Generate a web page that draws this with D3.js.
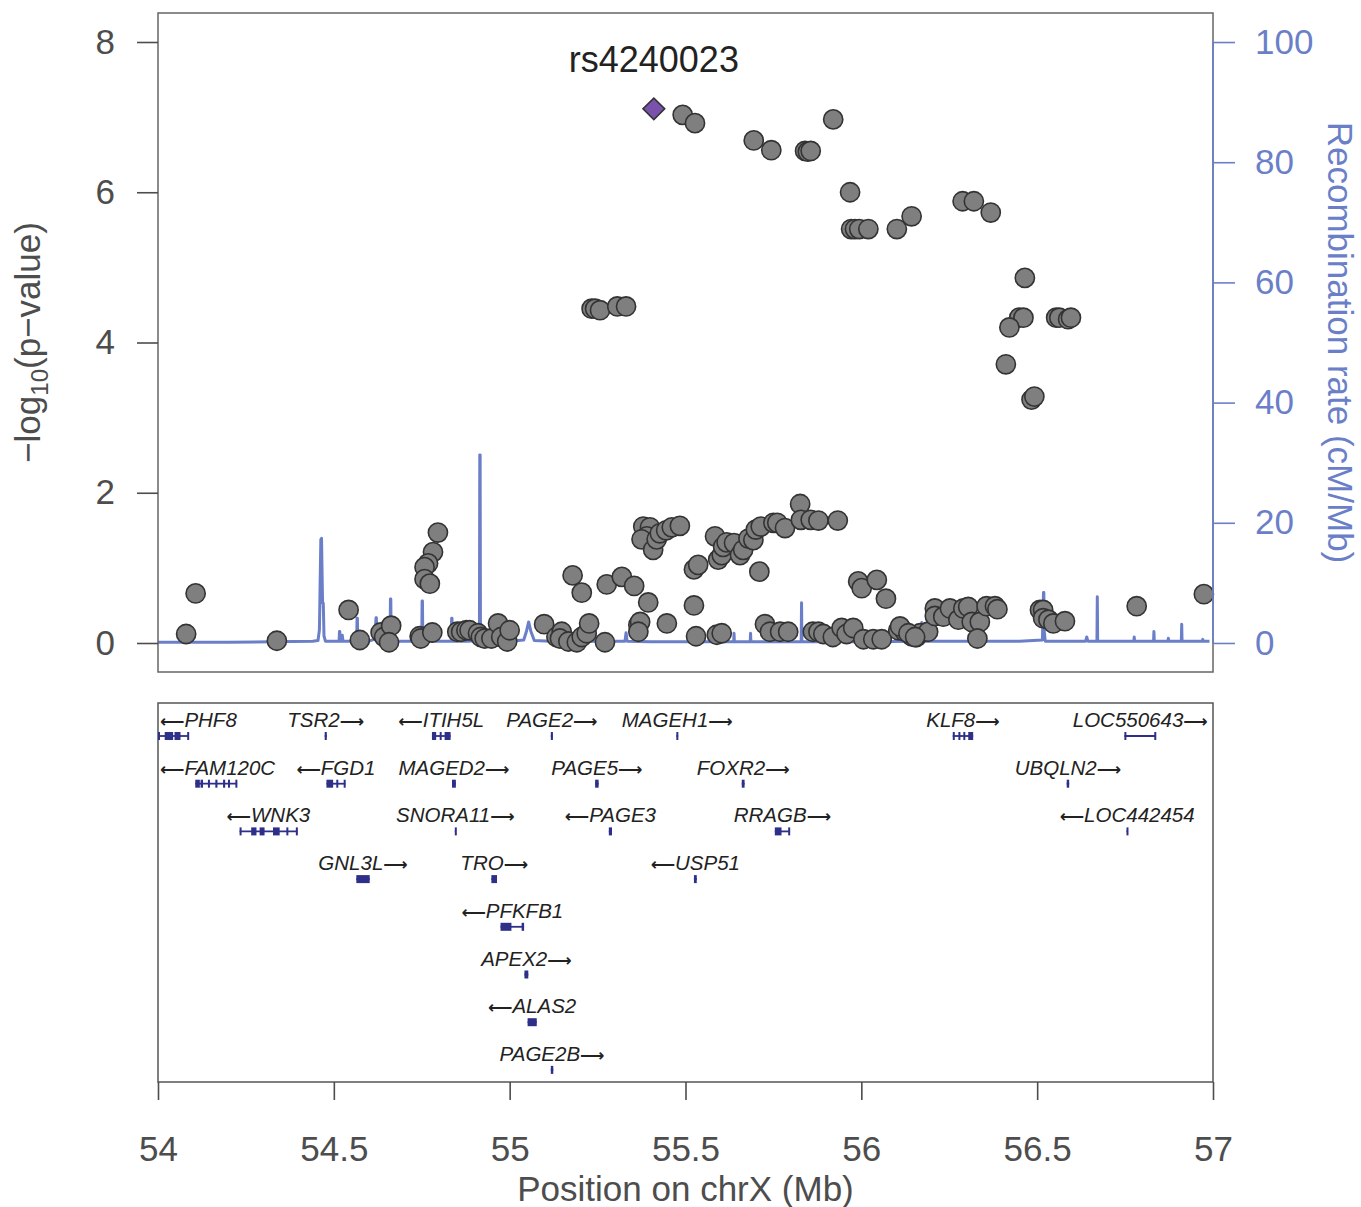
<!DOCTYPE html>
<html>
<head>
<meta charset="utf-8">
<script src="https://cdn.jsdelivr.net/npm/d3@7"></script>
<style>
  body { margin: 0; background: #fff; }
  text { font-family: Arial, "Liberation Sans", Helvetica, sans-serif; }
</style>
</head>
<body>
<svg id="chart" width="1361" height="1207"></svg>
<script>
// Lead variant
const leadSnp = { name: "rs4240023", pos: 55.410, logp: 7.11 };

// Other variants: [position (Mb), -log10 p]
const snps = [
  [54.080, 0.12], [54.107, 0.66], [54.338, 0.03], [54.542, 0.44], [54.574, 0.04],
  [54.633, 0.14], [54.643, 0.08], [54.663, 0.23], [54.657, 0.01], [54.744, 0.09],
  [54.747, 0.06], [54.780, 0.14], [54.796, 1.47], [54.782, 1.21], [54.768, 1.06],
  [54.758, 1.01], [54.758, 0.85], [54.773, 0.79], [54.851, 0.15], [54.862, 0.15],
  [54.877, 0.17], [54.886, 0.17], [54.910, 0.13], [54.918, 0.08], [54.929, 0.06],
  [54.948, 0.06], [54.967, 0.26], [54.976, 0.08], [54.993, 0.02], [55.000, 0.17],
  [55.098, 0.25], [55.133, 0.08], [55.148, 0.15], [55.143, 0.06], [55.167, 0.02],
  [55.191, 0.01], [55.205, 0.08], [55.219, 0.13], [55.226, 0.26], [55.271, 0.01],
  [55.179, 0.90], [55.205, 0.67], [55.276, 0.78], [55.319, 0.88], [55.354, 0.76],
  [55.394, 0.54], [55.366, 0.24], [55.371, 0.28], [55.366, 0.15], [55.447, 0.26],
  [55.380, 1.55], [55.399, 1.54], [55.390, 1.42], [55.375, 1.38], [55.408, 1.24],
  [55.418, 1.38], [55.427, 1.46], [55.445, 1.50], [55.461, 1.54], [55.484, 1.56],
  [55.524, 0.50], [55.530, 0.09], [55.589, 0.11], [55.603, 0.13], [55.524, 0.98],
  [55.536, 1.04], [55.584, 1.42], [55.593, 1.11], [55.603, 1.17], [55.607, 1.28],
  [55.617, 1.34], [55.638, 1.33], [55.655, 1.17], [55.664, 1.24], [55.679, 1.39],
  [55.693, 1.37], [55.700, 1.51], [55.714, 1.55], [55.750, 1.60], [55.761, 1.60],
  [55.783, 1.53], [55.710, 0.95], [55.826, 1.85], [55.828, 1.64], [55.856, 1.64],
  [55.878, 1.63], [55.933, 1.63], [55.726, 0.25], [55.740, 0.15], [55.769, 0.15],
  [55.792, 0.15], [55.862, 0.15], [55.878, 0.15], [55.892, 0.12], [55.919, 0.08],
  [55.944, 0.20], [55.958, 0.12], [55.977, 0.20], [56.006, 0.05], [56.034, 0.05],
  [56.058, 0.05], [55.991, 0.82], [56.001, 0.73], [56.044, 0.84], [56.070, 0.59],
  [56.105, 0.17], [56.124, 0.15], [56.143, 0.09], [56.157, 0.08], [56.167, 0.13],
  [56.190, 0.15], [56.209, 0.46], [56.209, 0.36], [56.110, 0.22], [56.134, 0.13],
  [56.153, 0.08], [56.233, 0.35], [56.252, 0.46], [56.276, 0.31], [56.290, 0.46],
  [56.304, 0.48], [56.314, 0.28], [56.337, 0.28], [56.330, 0.06], [56.356, 0.49],
  [56.380, 0.49], [56.387, 0.45], [56.508, 0.44], [56.517, 0.44], [56.517, 0.33],
  [56.532, 0.31], [56.546, 0.26], [56.579, 0.29], [56.783, 0.49], [56.974, 0.65],
  [55.492, 7.03], [55.527, 6.92], [55.694, 6.69], [55.744, 6.56], [55.840, 6.55],
  [55.848, 6.54], [55.856, 6.55], [55.920, 6.97], [55.968, 6.00], [55.971, 5.51],
  [55.982, 5.51], [55.994, 5.51], [56.020, 5.51], [56.101, 5.51], [56.143, 5.68],
  [56.288, 5.88], [56.320, 5.88], [56.368, 5.73], [56.465, 4.86], [56.449, 4.33],
  [56.461, 4.33], [56.421, 4.20], [56.411, 3.71], [56.484, 3.24], [56.492, 3.28],
  [56.554, 4.33], [56.563, 4.33], [56.588, 4.31], [56.596, 4.33], [55.233, 4.45],
  [55.243, 4.45], [55.257, 4.43], [55.306, 4.48], [55.331, 4.48]
];

// Recombination rate: [position (Mb), cM/Mb]
const recombination = [
  [54.000, 0.1], [54.200, 0.1], [54.440, 0.3], [54.455, 0.4], [54.459, 2.2],
  [54.463, 17.2], [54.465, 17.4], [54.468, 6.6], [54.470, 6.6], [54.472, 1.2],
  [54.476, 0.3], [54.510, 0.3], [54.515, 0.3], [54.516, 1.9], [54.517, 1.9],
  [54.518, 0.3], [54.522, 0.3], [54.523, 0.3], [54.524, 1.3], [54.526, 0.3],
  [54.560, 0.3], [54.565, 0.3], [54.566, 4.1], [54.567, 4.1], [54.568, 0.3],
  [54.600, 0.3], [54.614, 0.6], [54.618, 2.0], [54.620, 4.2], [54.621, 4.2],
  [54.622, 0.4], [54.640, 0.3], [54.660, 0.3], [54.661, 7.3], [54.662, 7.3],
  [54.663, 0.3], [54.700, 0.3], [54.750, 0.3], [54.751, 7.0], [54.752, 7.0],
  [54.753, 0.3], [54.800, 0.3], [54.834, 0.3], [54.835, 4.1], [54.836, 4.1],
  [54.837, 0.3], [54.880, 0.3], [54.914, 0.4], [54.915, 31.3], [54.916, 31.3],
  [54.917, 0.4], [54.960, 0.2], [55.000, 0.3], [55.040, 0.5], [55.048, 2.0],
  [55.054, 3.5], [55.060, 2.0], [55.070, 0.4], [55.150, 0.2], [55.242, 0.3],
  [55.243, 2.2], [55.244, 0.3], [55.300, 0.3], [55.328, 0.3], [55.331, 1.7],
  [55.334, 0.3], [55.400, 0.2], [55.500, 0.2], [55.637, 0.2], [55.638, 1.6],
  [55.639, 0.2], [55.684, 0.2], [55.685, 1.6], [55.686, 0.2], [55.760, 0.2],
  [55.829, 0.2], [55.830, 6.7], [55.831, 0.2], [55.900, 0.2], [56.000, 0.2],
  [56.168, 0.3], [56.172, 3.4], [56.176, 0.3], [56.300, 0.3], [56.450, 0.3],
  [56.515, 0.5], [56.518, 8.4], [56.519, 8.4], [56.520, 2.0], [56.523, 0.3],
  [56.600, 0.3], [56.638, 0.3], [56.641, 1.0], [56.644, 0.3], [56.670, 0.3],
  [56.671, 7.7], [56.672, 0.3], [56.720, 0.3], [56.775, 0.3], [56.776, 1.0],
  [56.777, 0.3], [56.831, 0.3], [56.832, 1.9], [56.833, 0.3], [56.872, 0.3],
  [56.873, 0.8], [56.874, 0.3], [56.910, 0.3], [56.911, 3.1], [56.912, 0.3],
  [56.970, 0.3], [56.971, 0.6], [56.972, 0.3], [56.990, 0.3]
];

// Genes in the region (Mb), strand and display row; exons as [start, end]
const genes = [
  { name: "PHF8", start: 54.000, end: 54.088, strand: "-", row: 0,
    exons: [[54.000, 54.005], [54.019, 54.043], [54.047, 54.064], [54.083, 54.088]] },
  { name: "TSR2", start: 54.474, end: 54.480, strand: "+", row: 0, exons: [[54.474, 54.480]] },
  { name: "ITIH5L", start: 54.779, end: 54.832, strand: "-", row: 0,
    exons: [[54.779, 54.791], [54.801, 54.805], [54.815, 54.832]] },
  { name: "PAGE2", start: 55.117, end: 55.123, strand: "+", row: 0, exons: [[55.117, 55.123]] },
  { name: "MAGEH1", start: 55.474, end: 55.479, strand: "+", row: 0, exons: [[55.474, 55.479]] },
  { name: "KLF8", start: 56.260, end: 56.318, strand: "+", row: 0,
    exons: [[56.260, 56.264], [56.276, 56.281], [56.290, 56.295], [56.304, 56.318]] },
  { name: "LOC550643", start: 56.748, end: 56.838, strand: "+", row: 0,
    exons: [[56.748, 56.753], [56.833, 56.838]] },

  { name: "FAM120C", start: 54.106, end: 54.225, strand: "-", row: 1,
    exons: [[54.106, 54.119], [54.121, 54.128], [54.142, 54.147], [54.163, 54.169],
            [54.185, 54.191], [54.199, 54.204], [54.220, 54.225]] },
  { name: "FGD1", start: 54.479, end: 54.533, strand: "-", row: 1,
    exons: [[54.479, 54.498], [54.507, 54.512], [54.528, 54.533]] },
  { name: "MAGED2", start: 54.836, end: 54.847, strand: "+", row: 1, exons: [[54.836, 54.847]] },
  { name: "PAGE5", start: 55.243, end: 55.253, strand: "+", row: 1, exons: [[55.243, 55.253]] },
  { name: "FOXR2", start: 55.660, end: 55.668, strand: "+", row: 1, exons: [[55.660, 55.668]] },
  { name: "UBQLN2", start: 56.584, end: 56.591, strand: "+", row: 1, exons: [[56.584, 56.591]] },

  { name: "WNK3", start: 54.232, end: 54.396, strand: "-", row: 2,
    exons: [[54.232, 54.237], [54.265, 54.280], [54.289, 54.303], [54.327, 54.346],
            [54.365, 54.370], [54.392, 54.396]] },
  { name: "SNORA11", start: 54.844, end: 54.847, strand: "+", row: 2, exons: [[54.844, 54.847]] },
  { name: "PAGE3", start: 55.282, end: 55.291, strand: "-", row: 2, exons: [[55.282, 55.291]] },
  { name: "RRAGB", start: 55.754, end: 55.797, strand: "+", row: 2,
    exons: [[55.754, 55.773], [55.792, 55.797]] },
  { name: "LOC442454", start: 56.754, end: 56.758, strand: "-", row: 2, exons: [[56.754, 56.758]] },

  { name: "GNL3L", start: 54.564, end: 54.602, strand: "+", row: 3, exons: [[54.564, 54.602]] },
  { name: "TRO", start: 54.948, end: 54.964, strand: "+", row: 3, exons: [[54.948, 54.964]] },
  { name: "USP51", start: 55.524, end: 55.532, strand: "-", row: 3, exons: [[55.524, 55.532]] },

  { name: "PFKFB1", start: 54.974, end: 55.041, strand: "-", row: 4,
    exons: [[54.974, 55.005], [55.034, 55.041]] },
  { name: "APEX2", start: 55.042, end: 55.053, strand: "+", row: 5, exons: [[55.042, 55.053]] },
  { name: "ALAS2", start: 55.051, end: 55.077, strand: "-", row: 6, exons: [[55.051, 55.077]] },
  { name: "PAGE2B", start: 55.117, end: 55.124, strand: "+", row: 7, exons: [[55.117, 55.124]] }
];

const leftTicks = [0, 2, 4, 6, 8];
const rightTicks = [0, 20, 40, 60, 80, 100];
const xTicks = [54, 54.5, 55, 55.5, 56, 56.5, 57];

// ---- layout ----
const plotL = 158, plotR = 1213;
const assocTop = 13, assocBottom = 672;
const geneTop = 703, geneBottom = 1082;

const axisGray = "#4d4d4d";
const recombBlue = "#6b7fc8";
const geneNavy = "#2e2f88";
const bigFont = 35;

const svg = d3.select("#chart");

const x = d3.scaleLinear().domain([54, 57]).range([plotL, plotR]);
const y = d3.scaleLinear().domain([-0.386, 8.386]).range([assocBottom, assocTop]);
const yRec = d3.scaleLinear().domain([-4.83, 104.83]).range([assocBottom, assocTop]);
const rowY = d3.scaleLinear().domain([0, 1]).range([736, 783.7]);

// ---- association panel ----
const assoc = svg.append("g");

// recombination rate
assoc.append("path")
  .datum(recombination)
  .attr("fill", "none")
  .attr("stroke", recombBlue)
  .attr("stroke-width", 3)
  .attr("stroke-linejoin", "round")
  .attr("d", d3.line().x(d => x(d[0])).y(d => yRec(d[1])));

// variants
assoc.append("g").selectAll("circle")
  .data(snps)
  .join("circle")
  .attr("cx", d => x(d[0]))
  .attr("cy", d => y(d[1]))
  .attr("r", 9.6)
  .attr("fill", "#7f7f7f")
  .attr("stroke", "#333")
  .attr("stroke-width", 1.6);

// lead variant
assoc.append("path")
  .attr("d", d3.symbol(d3.symbolSquare, 235)())
  .attr("transform", `translate(${x(leadSnp.pos)},${y(leadSnp.logp)}) rotate(45)`)
  .attr("fill", "#7a52ab")
  .attr("stroke", "#333")
  .attr("stroke-width", 1.6);

assoc.append("text")
  .attr("x", x(leadSnp.pos))
  .attr("y", y(leadSnp.logp) - 37)
  .attr("text-anchor", "middle")
  .attr("font-size", 36)
  .attr("fill", "#222")
  .text(leadSnp.name);

// frame
assoc.append("rect")
  .attr("x", plotL).attr("y", assocTop)
  .attr("width", plotR - plotL).attr("height", assocBottom - assocTop)
  .attr("fill", "none").attr("stroke", "#666").attr("stroke-width", 1.5);

// left axis
const yAxis = svg.append("g")
  .attr("transform", `translate(${plotL},0)`)
  .call(d3.axisLeft(y).tickValues(leftTicks).tickSize(21).tickPadding(22).tickFormat(d3.format("d")));
yAxis.select(".domain").remove();
yAxis.selectAll("line").attr("stroke", axisGray).attr("stroke-width", 1.6);
yAxis.selectAll("text").attr("font-size", bigFont).attr("fill", axisGray)
  .attr("font-family", "Arial, 'Liberation Sans', sans-serif");

// right axis
const yRAxis = svg.append("g")
  .attr("transform", `translate(${plotR},0)`)
  .call(d3.axisRight(yRec).tickValues(rightTicks).tickSize(22).tickPadding(20).tickFormat(d3.format("d")));
yRAxis.select(".domain").remove();
yRAxis.selectAll("line").attr("stroke", recombBlue).attr("stroke-width", 1.6);
yRAxis.selectAll("text").attr("font-size", bigFont).attr("fill", recombBlue)
  .attr("font-family", "Arial, 'Liberation Sans', sans-serif");
svg.append("line")
  .attr("x1", plotR).attr("x2", plotR)
  .attr("y1", yRec(0)).attr("y2", yRec(100))
  .attr("stroke", recombBlue).attr("stroke-width", 1.6);

// axis titles
const leftTitle = svg.append("text")
  .attr("transform", `translate(40,${(assocTop + assocBottom) / 2}) rotate(-90)`)
  .attr("text-anchor", "middle")
  .attr("font-size", bigFont)
  .attr("fill", axisGray);
leftTitle.append("tspan").text("\u2212log");
leftTitle.append("tspan").attr("font-size", 24).attr("dy", 8).text("10");
leftTitle.append("tspan").attr("dy", -8).text("(p\u2212value)");

svg.append("text")
  .attr("transform", `translate(1328,${(assocTop + assocBottom) / 2}) rotate(90)`)
  .attr("text-anchor", "middle")
  .attr("font-size", bigFont)
  .attr("fill", recombBlue)
  .text("Recombination rate (cM/Mb)");

// ---- gene panel ----
const genePanel = svg.append("g");
genePanel.append("rect")
  .attr("x", plotL).attr("y", geneTop)
  .attr("width", plotR - plotL).attr("height", geneBottom - geneTop)
  .attr("fill", "none").attr("stroke", "#555").attr("stroke-width", 1.5);

const geneG = genePanel.selectAll("g.gene")
  .data(genes)
  .join("g")
  .attr("class", "gene");

geneG.append("line")
  .attr("x1", d => x(d.start)).attr("x2", d => x(d.end))
  .attr("y1", d => rowY(d.row)).attr("y2", d => rowY(d.row))
  .attr("stroke", geneNavy).attr("stroke-width", 1.8);

geneG.selectAll("rect")
  .data(d => d.exons.map(e => ({ e, row: d.row })))
  .join("rect")
  .attr("x", d => x(d.e[0]))
  .attr("width", d => Math.max(2, x(d.e[1]) - x(d.e[0])))
  .attr("y", d => rowY(d.row) - 4)
  .attr("height", 8)
  .attr("fill", geneNavy);

// gene labels with strand arrow
const arrowStyle = sel => sel
  .attr("font-family", "'DejaVu Sans', sans-serif")
  .attr("font-style", "normal")
  .attr("font-weight", "bold")
  .attr("font-size", 17);

geneG.append("text")
  .attr("font-size", 20.5)
  .attr("font-style", "italic")
  .attr("fill", "#222")
  .attr("text-anchor", "middle")
  .attr("y", d => rowY(d.row) - 9)
  .each(function(d) {
    const t = d3.select(this);
    if (d.strand === "+") {
      t.append("tspan").text(d.name);
      t.append("tspan").call(arrowStyle).text("\u27F6");
    } else {
      t.append("tspan").call(arrowStyle).text("\u27F5");
      t.append("tspan").text(d.name);
    }
    const w = this.getComputedTextLength();
    let cx = (x(d.start) + x(d.end)) / 2;
    cx = Math.max(plotL + 2 + w / 2, Math.min(plotR - 4 - w / 2, cx));
    t.attr("x", cx);
  });

// x axis
const xAxis = svg.append("g")
  .attr("transform", `translate(0,${geneBottom})`)
  .call(d3.axisBottom(x).tickValues(xTicks).tickSize(18).tickPadding(36).tickFormat(d => String(d)));
xAxis.select(".domain").remove();
xAxis.selectAll("line").attr("stroke", axisGray).attr("stroke-width", 1.6);
xAxis.selectAll("text").attr("font-size", bigFont).attr("fill", axisGray)
  .attr("font-family", "Arial, 'Liberation Sans', sans-serif");

svg.append("text")
  .attr("x", (plotL + plotR) / 2)
  .attr("y", 1201)
  .attr("text-anchor", "middle")
  .attr("font-size", bigFont)
  .attr("fill", axisGray)
  .text("Position on chrX (Mb)");
</script>
</body>
</html>
